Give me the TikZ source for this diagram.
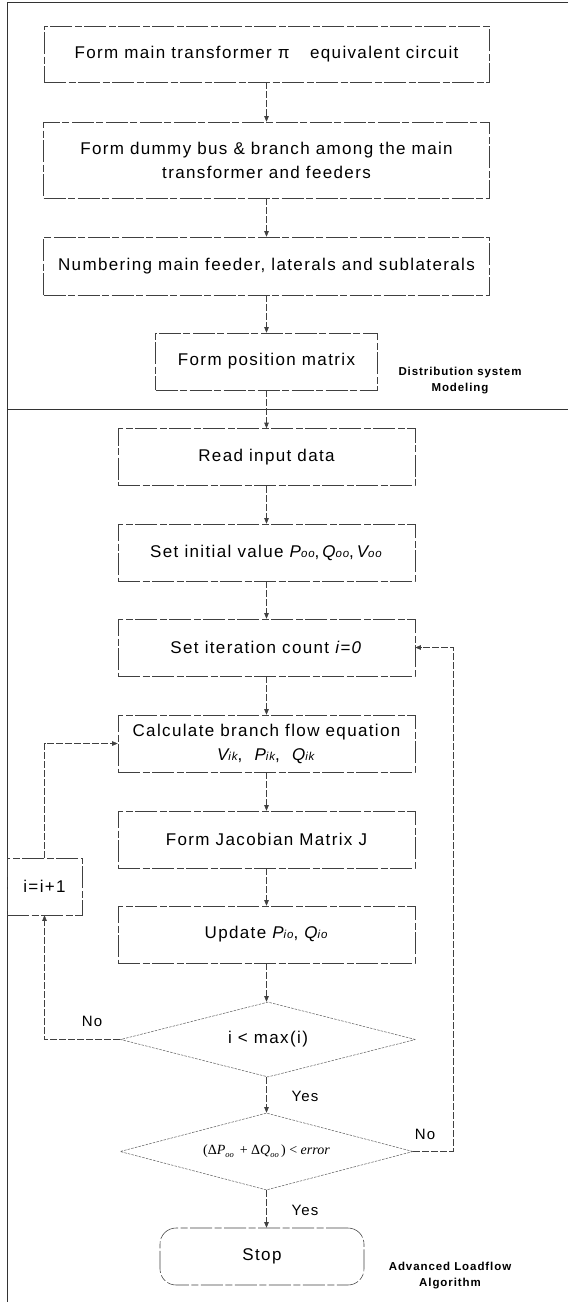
\documentclass[tikz,border=0pt]{standalone}
\usepackage[no-math]{fontspec}
\setmainfont{Liberation Sans}[LetterSpace=8]
\newfontfamily\tms{Liberation Serif}
\usetikzlibrary{shapes.geometric,arrows.meta}
\newcommand\smsub[1]{{\fontsize{11.5pt}{11.5pt}\selectfont #1}}
\newcommand\tsub[1]{\raisebox{-2.5pt}{\fontsize{8.5pt}{8.5pt}\selectfont\itshape #1}}
\begin{document}
\begin{tikzpicture}[x=1pt,y=-1pt,
  box/.style={draw=black!75, line width=0.55pt, dash pattern=on 22pt off 2.5pt on 7pt off 2.5pt,
    minimum width=297pt, minimum height=57pt, font=\fontsize{17}{24}\selectfont, align=center, inner sep=2pt},
  dia/.style={diamond, aspect=4, draw=black!60, line width=0.55pt, dash pattern=on 2.5pt off 1.2pt, inner sep=0pt,
    font=\fontsize{17}{20}\selectfont},
  conn/.style={draw=black!75, line width=0.55pt, dash pattern=on 7pt off 2pt, -{Triangle[length=5.5pt,width=4.5pt]}},
  lbl/.style={font=\fontsize{15}{18}\selectfont},
  side/.style={font=\fontsize{11.5}{16}\selectfont\bfseries, align=center}
]
\useasboundingbox (0,0) rectangle (568,1302);
% frame and separator
\draw[black!80, line width=0.6pt] (568,2) -- (7,2) -- (7,1302);
\draw[black!80, line width=0.7pt] (7,409) -- (568,409);

% boxes
\node[box, minimum width=445pt, minimum height=56pt] (b1) at (266.5,54) {Form main transformer π\hspace{1.2em}equivalent circuit};
\node[box, minimum width=446pt, minimum height=76pt] (b2) at (266.5,160) {Form dummy bus \& branch among the main\\transformer and feeders};
\node[box, minimum width=446pt, minimum height=58pt] (b3) at (266.5,266) {Numbering main feeder, laterals and sublaterals};
\node[box, minimum width=222pt] (b4) at (266.5,361.5) {Form position matrix};
\node[side] (lab1) at (460,381) {Distribution system\\Modeling};

\node[box] (b5) at (266.5,457) {Read input data};
\node[box] (b6) at (266.5,552.5) {Set initial value \textit{P\smsub{oo}},\,\textit{Q\smsub{oo}},\,\textit{V\smsub{oo}}};
\node[box] (b7) at (266.5,647.5) {Set iteration count \textit{i=0}};
\node[box] (b8) at (266.5,743.5) {Calculate branch flow equation\\\textit{V\smsub{ik}},\ \ \textit{P\smsub{ik}},\ \ \textit{Q\smsub{ik}}};
\node[box] (b9) at (266.5,839.5) {Form Jacobian Matrix J};
\node[box] (b10) at (266.5,934.5) {Update \textit{P\smsub{io}},\ \textit{Q\smsub{io}}};
\node[box, minimum width=75pt] (inc) at (44.5,886.5) {i=i+1};

\node[dia, minimum width=295pt, minimum height=75pt] (d1) at (268,1039.5) {i < max(i)};
\node[dia, minimum width=293pt, minimum height=77pt, font=\fontsize{14}{16}\selectfont\tms] (d2) at (266.5,1151.5) {(Δ\textit{P}\tsub{oo}\, + Δ\textit{Q}\tsub{oo}\,) < \textit{error}};
\node[box, rounded corners=16pt, minimum width=204pt] (stop) at (262,1256.5) {Stop};
\node[side] (lab2) at (450,1276) {Advanced Loadflow\\Algorithm};

% connectors
\draw[conn] (b1.south) -- (b2.north);
\draw[conn] (b2.south) -- (b3.north);
\draw[conn] (b3.south) -- (b4.north);
\draw[conn] (b4.south) -- (b5.north);
\draw[conn] (b5.south) -- (b6.north);
\draw[conn] (b6.south) -- (b7.north);
\draw[conn] (b7.south) -- (b8.north);
\draw[conn] (b8.south) -- (b9.north);
\draw[conn] (b9.south) -- (b10.north);
\draw[conn] (b10.south) -- (b10.south |- d1.north);
\draw[conn] (d1.south -| d2.north) -- (d2.north);
\node[lbl] (yes1) at (305,1096) {Yes};
\draw[conn] (d2.south) -- (d2.south -| b10.south) -- (b10.south |- stop.north);
\node[lbl] (yes2) at (305,1210) {Yes};
\coordinate (c1) at (44.5,1039.5);
\draw[conn] (d1.west) -- (c1) -- (inc.south);
\node[lbl] (no1) at (92,1021) {No};
\draw[conn] (inc.north) |- (b8.west);
\coordinate (c2) at (453,1151.5);
\draw[conn] (d2.east) -- (c2) |- (b7.east);
\node[lbl] (no2) at (425,1134) {No};
\end{tikzpicture}
\end{document}
